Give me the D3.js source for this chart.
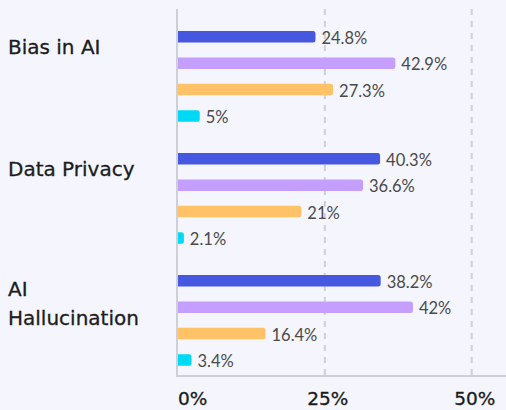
<!DOCTYPE html>
<html>
<head>
<meta charset="utf-8">
<script src="https://cdn.jsdelivr.net/npm/d3@7"></script>
<style>
  body { margin: 0; background: #f4f5fd; }
  svg { display: block; }
</style>
</head>
<body>
<div class="canva"></div>
<script>
// categories, series and labels
const categories = [['Bias in AI'], ['Data Privacy'], ['AI', 'Hallucination']];
const series = ['s1', 's2', 's3', 's4'];
const colors = ['#4658df', '#c49fff', '#ffc266', '#00d9f5'];
// bar lengths (read against the axis)
const barValues = [
  [23.4, 37.0, 26.4, 3.7],
  [34.4, 31.5, 21.0, 1.0],
  [34.5, 40.0, 14.9, 2.3]
];
// printed value labels
const valueLabels = [
  ['24.8%', '42.9%', '27.3%', '5%'],
  ['40.3%', '36.6%', '21%', '2.1%'],
  ['38.2%', '42%', '16.4%', '3.4%']
];
const ticks = [0, 25, 50];

const W = 506, H = 410;
const svg = d3.select('.canva').append('svg') // flaeche
  .attr('width', W)
  .attr('height', H);

svg.append('rect').attr('width', W).attr('height', H).attr('fill', '#f4f5fd');

const x = d3.scaleLinear().domain([0, 50]).range([178, 471.7]);
const y0 = d3.scaleBand().domain(d3.range(categories.length)).range([15, 381]);
const y1 = d3.scaleBand().domain(d3.range(series.length)).range([16, 106.7]).paddingInner(0.565);

// gridlines
svg.selectAll('line.grid')
  .data(ticks.slice(1))
  .enter()
  .append('line')
  .attr('class', 'grid')
  .attr('x1', d => x(d))
  .attr('x2', d => x(d))
  .attr('y1', 9)
  .attr('y2', 376)
  .attr('stroke', '#cfcfd8')
  .attr('stroke-width', 2)
  .attr('stroke-dasharray', '6,6');

// axis lines
svg.append('line')
  .attr('x1', x(0) - 1).attr('x2', x(0) - 1)
  .attr('y1', 9).attr('y2', 377)
  .attr('stroke', '#cfcfd8').attr('stroke-width', 2);
svg.append('line')
  .attr('x1', x(0) - 2).attr('x2', W)
  .attr('y1', 376).attr('y2', 376)
  .attr('stroke', '#cfcfd8').attr('stroke-width', 2);

const groups = svg.selectAll('g.cat')
  .data(categories)
  .enter()
  .append('g')
  .attr('class', 'cat')
  .attr('transform', (d, i) => 'translate(0,' + y0(i) + ')');

// bars
groups.selectAll('path.bar')
  .data((d, i) => barValues[i].map((v, j) => ({ v: v, j: j, label: valueLabels[i][j] })))
  .enter()
  .append('path')
  .attr('class', 'bar')
  .attr('fill', d => colors[d.j])
  .attr('d', d => {
    const x0 = x(0), x1 = x(d.v), yt = y1(d.j), h = y1.bandwidth();
    const r = Math.min(2.5, (x1 - x0) / 2);
    return 'M' + x0 + ',' + yt + 'H' + (x1 - r) + 'Q' + x1 + ',' + yt + ' ' + x1 + ',' + (yt + r) +
      'V' + (yt + h - r) + 'Q' + x1 + ',' + (yt + h) + ' ' + (x1 - r) + ',' + (yt + h) + 'H' + x0 + 'Z';
  });

// value labels
groups.selectAll('text.val')
  .data((d, i) => barValues[i].map((v, j) => ({ v: v, j: j, label: valueLabels[i][j] })))
  .enter()
  .append('text')
  .attr('class', 'val')
  .attr('x', d => x(d.v) + 6)
  .attr('y', d => y1(d.j) + y1.bandwidth() / 2 + 7)
  .attr('font-family', 'Lato, sans-serif')
  .attr('font-size', 16.5)
  .attr('fill', '#4a4a4a')
  .text(d => d.label);

// category labels (first line sits near the first bar)
groups.append('text')
  .attr('font-family', '"DejaVu Sans", sans-serif')
  .attr('font-size', 20)
  .attr('fill', '#1c1c1c')
  .attr('stroke', '#1c1c1c')
  .attr('stroke-width', 0.3)
  .attr('x', 8)
  .selectAll('tspan')
  .data(d => d)
  .enter()
  .append('tspan')
  .attr('x', 8)
  .attr('y', (d, k, nodes) => y1(0) + (nodes.length > 1 ? 21 : 23) + k * 29)
  .text(d => d);

// tick labels
svg.selectAll('text.tick')
  .data(ticks)
  .enter()
  .append('text')
  .attr('class', 'tick')
  .attr('x', (d, i) => i === 0 ? x(d) : x(d) + 3)
  .attr('y', 405)
  .attr('text-anchor', (d, i) => i === 0 ? 'start' : 'middle')
  .attr('font-family', '"DejaVu Sans", sans-serif')
  .attr('font-size', 18.5)
  .attr('fill', '#1a1a1a')
  .attr('stroke', '#1a1a1a')
  .attr('stroke-width', 0.3)
  .text(d => d + '%');
</script>
</body>
</html>
